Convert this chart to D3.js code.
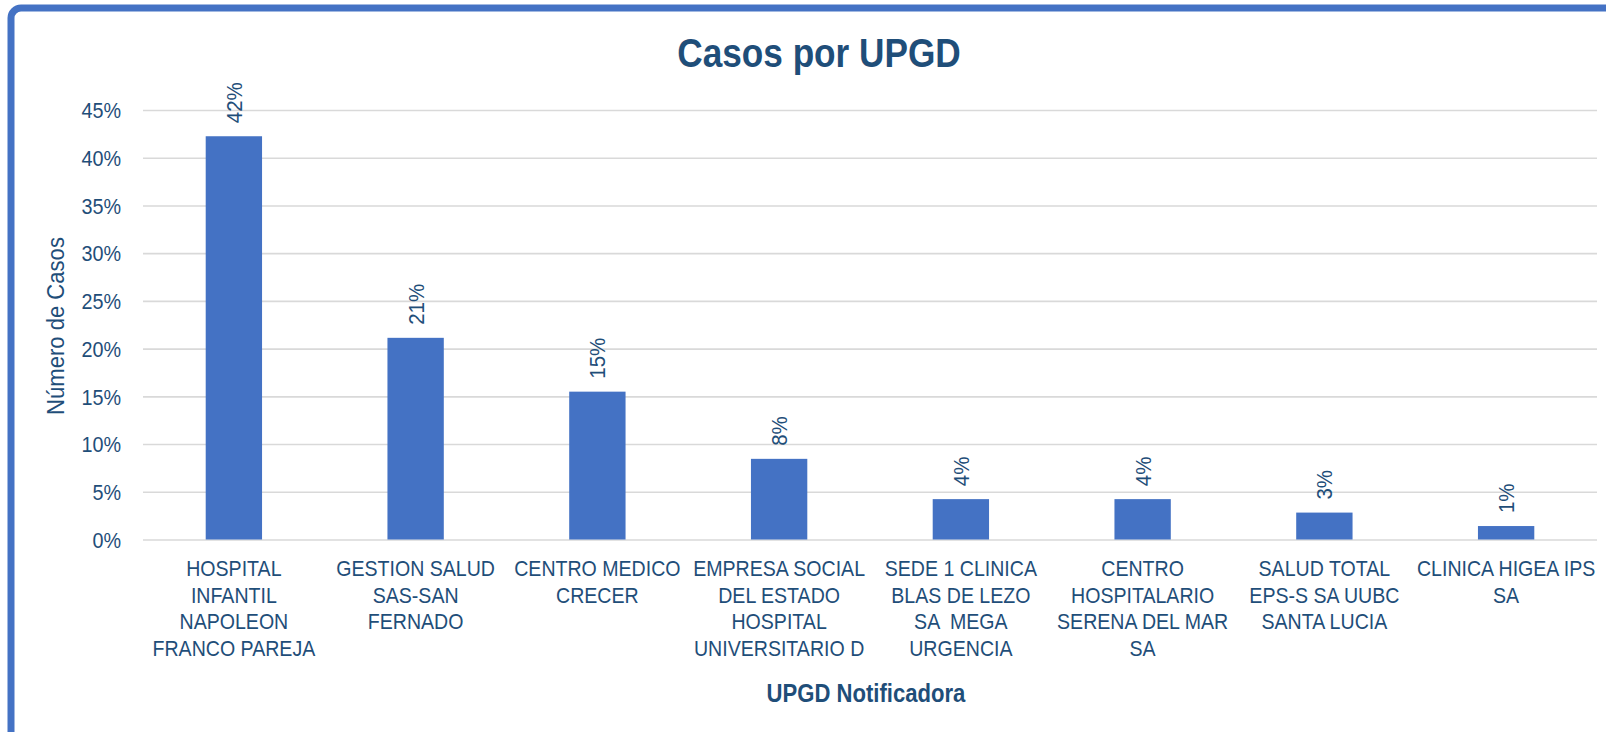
<!DOCTYPE html>
<html>
<head>
<meta charset="utf-8">
<script src="https://cdn.jsdelivr.net/npm/d3@7"></script>
<style>
 body{margin:0;background:#fff}
 svg text{font-family:"Liberation Sans Narrow","Arial Narrow","Liberation Sans",Arial,sans-serif;fill:#1F4E79}
</style>
</head>
<body>
<svg id="chart" width="1606" height="732"></svg>
<script>
// Casos por UPGD: share of notified cases by reporting unit.
const categories=[
 ["HOSPITAL","INFANTIL","NAPOLEON","FRANCO PAREJA"],
 ["GESTION SALUD","SAS-SAN","FERNADO"],
 ["CENTRO MEDICO","CRECER"],
 ["EMPRESA SOCIAL","DEL ESTADO","HOSPITAL","UNIVERSITARIO D"],
 ["SEDE 1 CLINICA","BLAS DE LEZO","SA  MEGA","URGENCIA"],
 ["CENTRO","HOSPITALARIO","SERENA DEL MAR","SA"],
 ["SALUD TOTAL","EPS-S SA UUBC","SANTA LUCIA"],
 ["CLINICA HIGEA IPS","SA"]];
const shares=[0.4225,0.2113,0.1549,0.0845,0.0423,0.0423,0.0282,0.0141];
const ticks=[0,0.05,0.10,0.15,0.20,0.25,0.30,0.35,0.40,0.45];
const title="Casos por UPGD",xtitle="UPGD Notificadora",ytitle="Número de Casos";

const svg=d3.select("#chart");
const margin={left:143,right:9,top:110,bottom:192.5};
const width=1606,height=732;
const x=d3.scaleBand().domain(d3.range(categories.length)).range([margin.left,width-margin.right]);
const y=d3.scaleLinear().domain([0,0.45]).range([height-margin.bottom,margin.top]);
const barwidth=x.bandwidth()*0.31;
const pct=d3.format(".0%");

// no narrow face installed: squeeze text horizontally around its anchor x
function condense(selection,k)
{selection.each(function()
{const text=d3.select(this),cx=+text.attr("x")||0,base=text.attr("transform")||"";
 text.attr("transform",`${base} translate(${cx},0) scale(${k},1) translate(${-cx},0)`);
});
 return selection;
}

// frame (only the top/left edge shows in the crop)
svg.append("rect").attr("x",11).attr("y",8).attr("width",1640).attr("height",800).attr("rx",10)
 .attr("fill","none").attr("stroke","#4472C4").attr("stroke-width",7);

svg.append("text").attr("x",819).attr("y",67).attr("text-anchor","middle")
 .style("font-weight","bold").style("font-size","40px").text(title).call(condense,0.88);

// y axis: gridlines + percent labels, domain hidden
svg.append("g").attr("transform",`translate(${margin.left},0)`)
 .call(d3.axisLeft(y).tickValues(ticks).tickFormat(pct).tickSize(-(width-margin.left-margin.right)).tickPadding(22))
 .call(g=>g.select(".domain").remove())
 .call(g=>g.selectAll(".tick line").attr("stroke","#D9D9D9").attr("stroke-width",1.6))
 .call(g=>g.selectAll(".tick text").attr("fill","#1F4E79").style("font-size","22px").attr("dy","0.35em").call(condense,0.9));

svg.append("text").attr("transform",`translate(64,326) rotate(-90)`).attr("text-anchor","middle")
 .style("font-size","23px").text(ytitle).call(condense,0.96);

svg.append("g").selectAll("rect").data(shares).join("rect")
 .attr("x",(d,i)=>x(i)+(x.bandwidth()-barwidth)/2).attr("width",barwidth)
 .attr("y",d=>y(d)).attr("height",d=>y(0)-y(d)).attr("fill","#4472C4");

// data labels, rotated
svg.append("g").selectAll("text").data(shares).join("text")
 .attr("transform",(d,i)=>`translate(${x(i)+x.bandwidth()/2+8},${y(d)-13}) rotate(-90)`)
 .style("font-size","22px").text(pct).call(condense,0.93);

// category labels, wrapped as in the source
const labels=svg.append("g").selectAll("text").data(categories).join("text")
 .attr("x",(d,i)=>x(i)+x.bandwidth()/2)
 .attr("text-anchor","middle").attr("xml:space","preserve").style("font-size","22px");
labels.selectAll("tspan").data((d,i)=>d.map(line=>({line,i}))).join("tspan")
 .attr("x",d=>x(d.i)+x.bandwidth()/2).attr("y",(d,j)=>576+j*26.6).text(d=>d.line);
labels.call(condense,0.89);

svg.append("text").attr("x",866).attr("y",702).attr("text-anchor","middle")
 .style("font-weight","bold").style("font-size","26px").text(xtitle).call(condense,0.85);
</script>
</body>
</html>
